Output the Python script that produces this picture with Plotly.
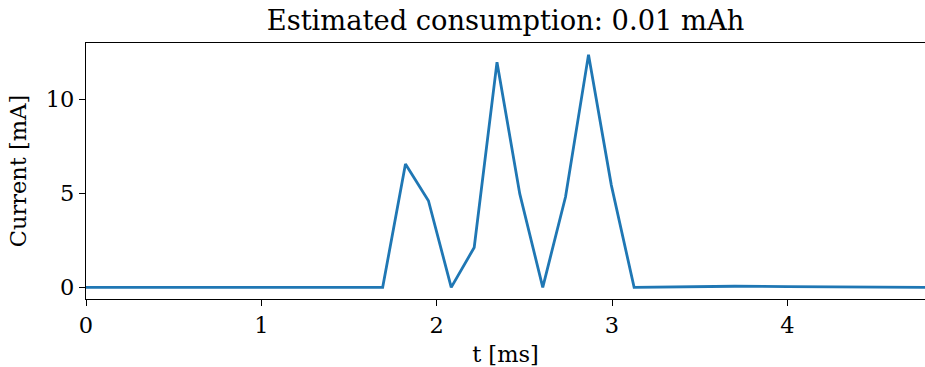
import plotly.graph_objects as go

t_ms = [0.0, 1.692, 1.822, 1.953, 2.083, 2.214, 2.344, 2.474, 2.605, 2.735, 2.866, 2.996, 3.126,
        3.3, 3.5, 3.7, 4.0, 4.3, 4.6, 4.785]
current_mA = [0.0, 0.0, 6.56, 4.61, 0.0, 2.12, 11.98, 4.97, 0.0, 4.82, 12.38, 5.44, 0.0,
              0.03, 0.06, 0.06, 0.04, 0.02, 0.0, 0.0]
x_ticks = [0, 1, 2, 3, 4]
y_ticks = [0, 5, 10]
title_text = "Estimated consumption: 0.01 mAh"

FONT = "DejaVu Serif"

fig = go.Figure()
fig.add_trace(go.Scatter(x=t_ms, y=current_mA, mode="lines",
                         line=dict(color="#1f77b4", width=2.8), showlegend=False))

fig.update_layout(
    width=925, height=367,
    margin=dict(l=86, r=0, t=43, b=68),
    paper_bgcolor="white", plot_bgcolor="white",
    font=dict(family=FONT, size=22.5, color="black"),
    title=dict(text=title_text, x=0.5, xref="paper", xanchor="center",
               y=1 - 20 / 367, yref="container", yanchor="middle",
               font=dict(family=FONT, size=27.3, color="black")),
)
fig.update_xaxes(range=[0, 4.785], tickvals=x_ticks, ticks="outside", ticklen=6, tickwidth=1.3,
                 tickcolor="black", showline=True, linecolor="black", linewidth=1.4,
                 mirror=True, showgrid=False, zeroline=False,
                 title=dict(text="t [ms]", standoff=9, font=dict(family=FONT, size=22.5)))
fig.update_yaxes(range=[-0.619, 13.0], tickvals=y_ticks, ticks="outside", ticklen=6, tickwidth=1.3,
                 tickcolor="black", showline=True, linecolor="black", linewidth=1.4,
                 mirror=False, showgrid=False, zeroline=False,
                 title=dict(text="Current [mA]", standoff=12, font=dict(family=FONT, size=22.5)))

fig.write_html("out.html")
